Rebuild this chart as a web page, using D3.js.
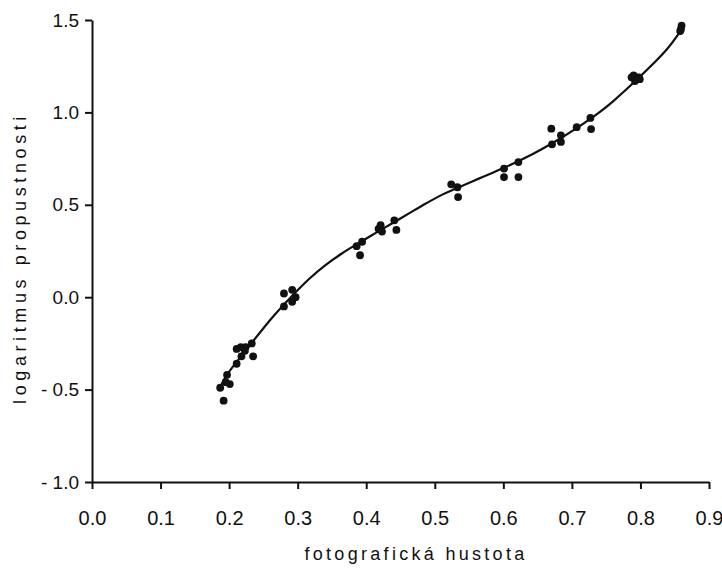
<!DOCTYPE html>
<html>
<head>
<meta charset="utf-8">
<script src="https://cdn.jsdelivr.net/npm/d3@7/dist/d3.min.js"></script>
<style>
  html, body { margin: 0; padding: 0; background: #fff; }
  svg { display: block; }
  text { font-family: "Liberation Sans", Arial, sans-serif; fill: #111; }
</style>
</head>
<body>
<svg id="chart" width="722" height="575"></svg>
<script>
// Measured points: photographic density vs. log of transmittance
const densityX = [
  0.192, 0.187, 0.195, 0.201, 0.197, 0.211, 0.218, 0.211, 0.217, 0.224, 0.235, 0.233, 0.223,
  0.280, 0.292, 0.297, 0.292, 0.280,
  0.386, 0.394, 0.391, 0.421, 0.423, 0.418, 0.441, 0.444,
  0.524, 0.533, 0.534,
  0.601, 0.601, 0.622, 0.622,
  0.670, 0.671, 0.684, 0.684, 0.707, 0.727, 0.728,
  0.790, 0.794, 0.798, 0.792, 0.799, 0.787,
  0.859, 0.860, 0.858
];
const logTransmittance = [
  -0.56, -0.49, -0.46, -0.47, -0.42, -0.36, -0.32, -0.28, -0.27, -0.27, -0.32, -0.25, -0.29,
  0.02, 0.04, 0.00, -0.025, -0.05,
  0.276, 0.30, 0.227, 0.39, 0.355, 0.37, 0.416, 0.364,
  0.611, 0.595, 0.542,
  0.696, 0.65, 0.731, 0.65,
  0.912, 0.827, 0.876, 0.84, 0.92, 0.97, 0.91,
  1.20, 1.19, 1.19, 1.17, 1.18, 1.19,
  1.45, 1.47, 1.44
];

// Fitted calibration curve
const curveX = [0.186, 0.195, 0.224, 0.263, 0.29, 0.317, 0.341, 0.365, 0.39, 0.414, 0.438, 0.463,
  0.487, 0.511, 0.531, 0.565, 0.601, 0.643, 0.670, 0.707, 0.74, 0.76, 0.794, 0.837, 0.859];
const curveY = [-0.50, -0.43, -0.29, -0.11, 0.0, 0.10, 0.175, 0.238, 0.295, 0.348, 0.40, 0.455,
  0.507, 0.555, 0.588, 0.643, 0.70, 0.775, 0.83, 0.915, 1.0, 1.06, 1.175, 1.335, 1.443];

const xTicks = [0, 0.1, 0.2, 0.3, 0.4, 0.5, 0.6, 0.7, 0.8, 0.9];
const xTickLabels = ["0.0", "0.1", "0.2", "0.3", "0.4", "0.5", "0.6", "0.7", "0.8", "0.9"];
const yTicks = [-1.0, -0.5, 0.0, 0.5, 1.0, 1.5];
const yTickLabels = ["- 1.0", "- 0.5", "0.0", "0.5", "1.0", "1.5"];

const xTitle = "fotografická hustota";
const yTitle = "logaritmus propustnosti";

const svg = d3.select("#chart");
const x = d3.scaleLinear().domain([0, 0.9]).range([92, 709]);
const y = d3.scaleLinear().domain([-1, 1.5]).range([482, 20]);

// Axes
const xAxis = d3.axisBottom(x)
  .tickValues(xTicks)
  .tickFormat((d, i) => xTickLabels[i])
  .tickSizeInner(7).tickSizeOuter(0).tickPadding(22);
const gx = svg.append("g").attr("transform", `translate(0,${y(-1)})`).call(xAxis);

const yAxis = d3.axisLeft(y)
  .tickValues(yTicks)
  .tickFormat((d, i) => yTickLabels[i])
  .tickSizeInner(7).tickSizeOuter(0).tickPadding(6);
const gy = svg.append("g").attr("transform", `translate(${x(0)},0)`).call(yAxis);

[gx, gy].forEach(g => {
  g.select(".domain").attr("stroke", "#111").attr("stroke-width", 2);
  g.selectAll(".tick line").attr("stroke", "#111").attr("stroke-width", 2);
  g.selectAll(".tick text").attr("fill", "#111");
});
gy.selectAll(".tick text")
  .attr("font-size", 19)
  .attr("font-family", "'Liberation Sans', Arial, sans-serif");
gx.selectAll(".tick text")
  .attr("font-size", 20)
  .attr("font-family", "'Liberation Sans Narrow', 'DejaVu Sans Condensed', Arial, sans-serif");

// Axis titles
svg.append("text")
  .attr("x", 416).attr("y", 560)
  .attr("text-anchor", "middle")
  .attr("font-size", 18)
  .attr("letter-spacing", "3.3px")
  .text(xTitle);

svg.append("text")
  .attr("transform", "translate(26,258) rotate(-90)")
  .attr("text-anchor", "middle")
  .attr("font-size", 18)
  .attr("letter-spacing", "4.6px")
  .text(yTitle);

// Curve
const curvePts = curveX.map((d, i) => [d, curveY[i]]);
svg.append("path")
  .datum(curvePts)
  .attr("fill", "none")
  .attr("stroke", "#111")
  .attr("stroke-width", 2.2)
  .attr("d", d3.line().x(d => x(d[0])).y(d => y(d[1])).curve(d3.curveCatmullRom.alpha(0.5)));

// Points
const pts = densityX.map((d, i) => [d, logTransmittance[i]]);
svg.append("g").selectAll("circle")
  .data(pts)
  .join("circle")
  .attr("cx", d => x(d[0]))
  .attr("cy", d => y(d[1]))
  .attr("r", 3.9)
  .attr("fill", "#111");
</script>
</body>
</html>
